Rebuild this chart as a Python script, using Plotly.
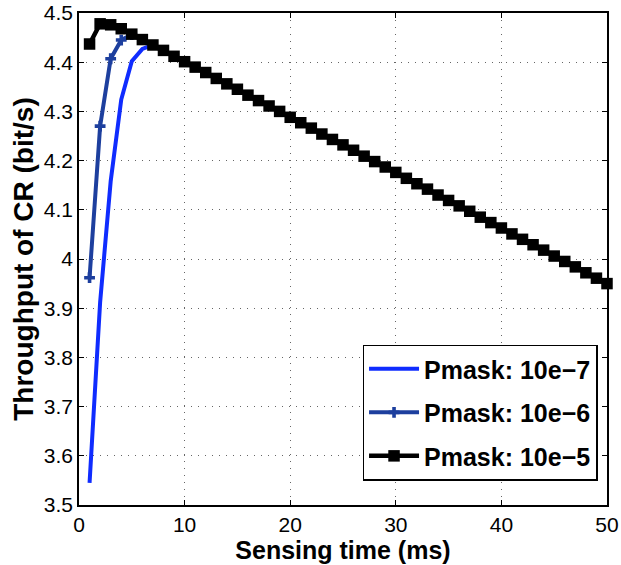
import plotly.graph_objects as go

# Data
tau_e7 = [1, 2, 3, 4, 5, 6, 7]
thr_e7 = [3.545, 3.912, 4.158, 4.324, 4.402, 4.427, 4.435]

tau_e6 = [1, 2, 3, 4, 5]
thr_e6 = [3.962, 4.270, 4.407, 4.445, 4.456]

tau_e5 = list(range(1, 51))
thr_e5 = [4.437, 4.478, 4.476, 4.468, 4.457, 4.446, 4.435, 4.424, 4.412, 4.401,
          4.390, 4.379, 4.367, 4.356, 4.345, 4.333, 4.322, 4.311, 4.300, 4.288,
          4.277, 4.266, 4.254, 4.243, 4.232, 4.221, 4.209, 4.198, 4.187, 4.176,
          4.164, 4.153, 4.142, 4.130, 4.119, 4.108, 4.097, 4.085, 4.074, 4.063,
          4.051, 4.040, 4.029, 4.018, 4.006, 3.995, 3.984, 3.972, 3.961, 3.950]

names = ["Pmask: 10e\u22127", "Pmask: 10e\u22126", "Pmask: 10e\u22125"]

x_ticks = [0, 10, 20, 30, 40, 50]
y_ticks = [3.5, 3.6, 3.7, 3.8, 3.9, 4.0, 4.1, 4.2, 4.3, 4.4, 4.5]
y_tick_text = ["3.5", "3.6", "3.7", "3.8", "3.9", "4", "4.1", "4.2", "4.3", "4.4", "4.5"]

FONT = "Liberation Sans, Arial, Helvetica, sans-serif"

fig = go.Figure()
fig.add_trace(go.Scatter(x=tau_e7, y=thr_e7, mode="lines", name=names[0],
                         legendgroup="a",
                         line=dict(color="#0f2cff", width=4)))
fig.add_trace(go.Scatter(x=tau_e6, y=thr_e6, mode="lines+markers", name=names[1],
                         legendgroup="b",
                         line=dict(color="#1d3f9e", width=4),
                         marker=dict(symbol="cross", size=9, color="#1d3f9e")))
fig.add_trace(go.Scatter(x=tau_e5, y=thr_e5, mode="lines+markers", name=names[2],
                         legendgroup="c", cliponaxis=False,
                         line=dict(color="black", width=4.5),
                         marker=dict(symbol="square", size=11.5, color="black")))

axis_common = dict(
    showline=True, linecolor="black", linewidth=1.5, mirror="ticks",
    ticks="inside", ticklen=5, tickcolor="black", tickwidth=1,
    showgrid=True, gridcolor="#666666", griddash="1px,6px", gridwidth=1,
    zeroline=False, tickfont=dict(family=FONT, size=21, color="black"),
)

fig.update_xaxes(range=[0, 50], tickvals=x_ticks, automargin=False,
                 title=dict(text="<b>Sensing time (ms)</b>", standoff=4,
                            font=dict(family=FONT, size=25, color="black")),
                 **axis_common)
fig.update_yaxes(range=[3.5, 4.5], tickvals=y_ticks, ticktext=y_tick_text,
                 automargin=False,
                 title=dict(text="<b>Throughput of CR (bit/s)</b>", standoff=2,
                            font=dict(family=FONT, size=28, color="black")),
                 **axis_common)

fig.update_layout(
    width=621, height=565,
    margin=dict(l=79, r=14, t=13, b=60),
    plot_bgcolor="white", paper_bgcolor="white",
    font=dict(family=FONT, color="black"),
    showlegend=True,
    legend=dict(x=0.537, y=0.326, xanchor="left", yanchor="top",
                bgcolor="white", bordercolor="black", borderwidth=1.5,
                font=dict(family=FONT, size=25, color="black", weight="bold"),
                tracegroupgap=8, itemwidth=50),
)

fig.write_html("out.html")
